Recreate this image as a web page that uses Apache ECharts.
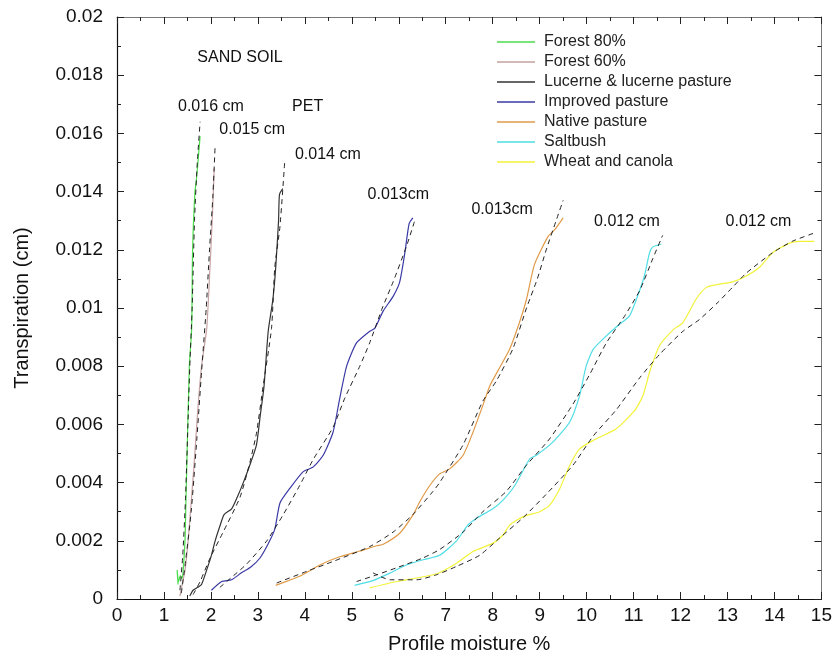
<!DOCTYPE html>
<html><head><meta charset="utf-8">
<script src="https://cdn.jsdelivr.net/npm/echarts@6/dist/echarts.min.js"></script>
<style>html,body{margin:0;padding:0;background:#fff}#c{width:835px;height:659px}</style>
</head><body><div id="c"></div>
<script>
// ---------- data (x = profile moisture %, y = transpiration cm) ----------
const seriesNames = ['Forest 80%', 'Forest 60%', 'Lucerne & lucerne pasture', 'Improved pasture', 'Native pasture', 'Saltbush', 'Wheat and canola'];

const forest80 = [[1.30,0.0005],[1.28,0.0010],[1.31,0.0006],[1.35,0.0008],[1.38,0.0007],[1.41,0.0010],[1.45,0.0021],[1.47,0.0035],[1.54,0.0080],[1.59,0.0093],[1.61,0.0120],[1.66,0.0140],[1.69,0.0144],[1.77,0.0159]];
const forest80Fit = [[1.34,0.0003],[1.40,0.0015],[1.46,0.0035],[1.55,0.0080],[1.60,0.0100],[1.65,0.0130],[1.71,0.0150],[1.77,0.0164]];

const forest60 = [[1.34,0.0001],[1.40,0.0006],[1.45,0.0010],[1.52,0.0021],[1.64,0.0046],[1.72,0.0065],[1.80,0.0080],[1.91,0.0093],[1.98,0.0114],[2.03,0.0131],[2.07,0.0148]];
const forest60Fit = [[1.37,0.0002],[1.46,0.0013],[1.58,0.0030],[1.70,0.0055],[1.80,0.0078],[1.90,0.0100],[1.97,0.0120],[2.04,0.0138],[2.09,0.0156]];

const lucerne = [[1.55,0.0001],[1.62,0.0003],[1.72,0.0004],[1.80,0.0005],[1.91,0.0010],[2.01,0.0015],[2.09,0.0020],[2.19,0.0025],[2.28,0.0029],[2.44,0.0031],[2.56,0.0035],[2.69,0.0040],[2.85,0.0047],[2.97,0.0053],[3.05,0.0063],[3.13,0.0073],[3.22,0.0092],[3.32,0.0103],[3.38,0.0114],[3.44,0.0130],[3.46,0.0139],[3.53,0.0141]];
const lucerneFit = [[1.62,0.00015],[1.77,0.0006],[1.98,0.0014],[2.26,0.0023],[2.62,0.0035],[2.83,0.0047],[2.97,0.0057],[3.11,0.0073],[3.29,0.0093],[3.36,0.0114],[3.47,0.0128],[3.57,0.0150]];

const improved = [[2.01,0.0003],[2.23,0.0006],[2.44,0.00066],[2.65,0.0009],[2.85,0.0011],[3.04,0.0014],[3.22,0.0019],[3.36,0.0024],[3.47,0.0033],[3.68,0.0038],[3.96,0.00437],[4.18,0.00454],[4.39,0.00494],[4.60,0.00573],[4.74,0.00687],[4.89,0.0080],[5.10,0.0088],[5.38,0.0092],[5.49,0.0093],[5.67,0.0099],[5.88,0.0104],[6.02,0.0109],[6.13,0.0119],[6.22,0.0129],[6.30,0.0131]];
const improvedFit = [[2.19,0.0004],[2.48,0.0008],[2.76,0.0012],[3.19,0.0020],[3.54,0.0029],[3.89,0.0039],[4.18,0.0048],[4.60,0.0059],[4.85,0.0069],[5.17,0.0080],[5.38,0.0088],[5.65,0.0100],[5.88,0.0109],[6.16,0.0121],[6.34,0.0130]];

const nativeP = [[3.38,0.00047],[3.89,0.00078],[4.32,0.00117],[4.74,0.00145],[5.17,0.00165],[5.53,0.00183],[5.67,0.00188],[6.02,0.00226],[6.30,0.00288],[6.45,0.00335],[6.66,0.0039],[6.87,0.0043],[7.09,0.00448],[7.37,0.00494],[7.58,0.00573],[7.79,0.00665],[7.94,0.00733],[8.11,0.00784],[8.36,0.00858],[8.57,0.0095],[8.72,0.0103],[8.89,0.0115],[9.18,0.01246],[9.32,0.01269],[9.50,0.0131]];
const nativeFit = [[3.40,0.00055],[4.04,0.00095],[4.60,0.00129],[5.38,0.0018],[5.88,0.0023],[6.30,0.0029],[6.73,0.0037],[6.87,0.0040],[7.37,0.0053],[7.79,0.0068],[8.08,0.0075],[8.43,0.0086],[8.72,0.0100],[8.95,0.0110],[9.14,0.0120],[9.35,0.0130],[9.50,0.0137]];

const saltbush = [[5.06,0.00047],[5.45,0.00063],[5.81,0.00089],[6.16,0.00117],[6.52,0.00135],[6.87,0.0015],[7.23,0.0020],[7.47,0.00254],[7.65,0.00277],[8.01,0.00311],[8.22,0.0034],[8.47,0.0039],[8.79,0.00482],[8.93,0.00494],[9.28,0.00539],[9.64,0.00608],[9.85,0.00699],[9.99,0.0080],[10.14,0.00858],[10.42,0.00904],[10.70,0.00944],[10.91,0.00972],[11.06,0.0103],[11.23,0.0111],[11.34,0.0119],[11.41,0.0121],[11.59,0.0122]];
const saltbushFit = [[5.10,0.0006],[5.53,0.00083],[6.00,0.0011],[6.50,0.0014],[6.87,0.0017],[7.37,0.0023],[7.79,0.0030],[8.29,0.0037],[8.72,0.0046],[9.21,0.0055],[9.71,0.0067],[10.06,0.0077],[10.42,0.0088],[10.80,0.0097],[11.13,0.0106],[11.41,0.0117],[11.62,0.0125]];

const wheat = [[5.38,0.00038],[5.81,0.00055],[6.16,0.00066],[6.80,0.00086],[7.23,0.00123],[7.58,0.00163],[8.01,0.00192],[8.22,0.0022],[8.36,0.00254],[8.65,0.00283],[9.00,0.0030],[9.21,0.00322],[9.43,0.0038],[9.64,0.00459],[9.85,0.00516],[10.14,0.00545],[10.63,0.00585],[11.02,0.00647],[11.20,0.00699],[11.34,0.00779],[11.55,0.0087],[11.84,0.00925],[12.05,0.0095],[12.33,0.0103],[12.54,0.0107],[12.76,0.0108],[13.11,0.0109],[13.40,0.0111],[13.68,0.0114],[13.96,0.0119],[14.32,0.01223],[14.53,0.01229],[14.85,0.01229]];
const wheatFit = [[5.45,0.0009],[5.81,0.00066],[6.38,0.00066],[6.80,0.00083],[7.23,0.00112],[7.72,0.0015],[8.15,0.0021],[8.65,0.0028],[9.14,0.0036],[9.71,0.0046],[10.14,0.0056],[10.63,0.0065],[11.13,0.0076],[11.55,0.0084],[12.05,0.0092],[12.40,0.0096],[12.80,0.0102],[13.10,0.0107],[13.40,0.0112],[13.96,0.0119],[14.39,0.0123],[14.89,0.0126]];

// annotation texts and the data-space point each is centred on
const annotationTexts = ['SAND SOIL', '0.016 cm', 'PET', '0.015 cm', '0.014 cm', '0.013cm', '0.013cm', '0.012 cm', '0.012 cm'];
const annotationAt = [[2.62,0.0186],[2.00,0.01692],[4.06,0.01692],[2.88,0.01613],[4.49,0.01527],[5.99,0.0139],[8.20,0.01339],[10.86,0.01298],[13.66,0.01298]];

const xTicks = {min: 0, max: 15, interval: 1};
const yTicks = {min: 0, max: 0.02, interval: 0.002};

// ---------- chart ----------
const colors = ['#4cdc4c', '#c6a2a2', '#333333', '#3a3aa6', '#e09a48', '#4fdde6', '#f2f23a'];
const solid = [forest80, forest60, lucerne, improved, nativeP, saltbush, wheat];
const fits = [forest80Fit, forest60Fit, lucerneFit, improvedFit, nativeFit, saltbushFit, wheatFit];
const FONT = '"Liberation Sans", Arial, Helvetica, sans-serif';

const series = [];
fits.forEach((d, i) => series.push({
  name: 'fit ' + i, type: 'line', data: d, showSymbol: false, symbol: 'none', smooth: 0.2,
  lineStyle: {color: '#222', width: 1, type: [5, 4]}, z: 3, silent: true
}));
solid.forEach((d, i) => series.push({
  name: seriesNames[i], type: 'line', data: d, showSymbol: false, symbol: 'none', smooth: 0.2,
  color: colors[i], lineStyle: {color: colors[i], width: 1.2}, z: 2, silent: true
}));

const chart = echarts.init(document.getElementById('c'), null, {renderer: 'canvas'});
const axisCommon = {
  splitLine: {show: false},
  axisTick: {show: true, inside: true, length: 7, lineStyle: {color: '#222'}},
  minorTick: {show: true, splitNumber: 2, length: 4, lineStyle: {color: '#222'}},
};
chart.setOption({
  animation: false,
  backgroundColor: '#fff',
  grid: {left: 117, right: 13, top: 17, bottom: 58, containLabel: false},
  legend: {
    data: seriesNames, orient: 'vertical', left: 497, top: 32, itemGap: 0, padding: 0,
    icon: 'rect', itemWidth: 38, itemHeight: 1.6,
    textStyle: {fontFamily: FONT, fontSize: 16, color: '#222', lineHeight: 20, padding: [0, 0, 0, 4]}
  },
  xAxis: [
    Object.assign({}, axisCommon, {
      type: 'value', min: xTicks.min, max: xTicks.max, interval: xTicks.interval, position: 'bottom',
      axisLine: {show: true, onZero: false, lineStyle: {color: '#111', width: 1.2}},
      axisLabel: {fontFamily: FONT, fontSize: 19, color: '#111', margin: 7},
      name: 'Profile moisture %', nameLocation: 'middle', nameGap: 35,
      nameTextStyle: {fontFamily: FONT, fontSize: 20, color: '#111'}
    }),
    Object.assign({}, axisCommon, {
      type: 'value', min: xTicks.min, max: xTicks.max, interval: xTicks.interval, position: 'top',
      axisLine: {show: true, onZero: false, lineStyle: {color: '#777', width: 1}},
      axisLabel: {show: false}
    })
  ],
  yAxis: [
    Object.assign({}, axisCommon, {
      type: 'value', min: yTicks.min, max: yTicks.max, interval: yTicks.interval, position: 'left',
      axisLine: {show: true, onZero: false, lineStyle: {color: '#111', width: 1.2}},
      axisLabel: {fontFamily: FONT, fontSize: 19, color: '#111', margin: 14,
        formatter: v => String(+v.toFixed(4))},
      name: 'Transpiration (cm)', nameLocation: 'middle', nameGap: 85, nameRotate: 90,
      nameTextStyle: {fontFamily: FONT, fontSize: 20, color: '#111'}
    }),
    Object.assign({}, axisCommon, {
      type: 'value', min: yTicks.min, max: yTicks.max, interval: yTicks.interval, position: 'right',
      axisLine: {show: true, onZero: false, lineStyle: {color: '#777', width: 1}},
      axisLabel: {show: false}
    })
  ],
  series: series
});

const graphics = annotationTexts.map((t, i) => {
  const p = chart.convertToPixel({xAxisIndex: 0, yAxisIndex: 0}, annotationAt[i]);
  return {type: 'text', x: p[0], y: p[1], z: 10, silent: true,
    style: {text: t, fill: '#111', font: '16px ' + FONT, align: 'center', verticalAlign: 'middle'}};
});
chart.setOption({graphic: graphics});
</script>
</body></html>
